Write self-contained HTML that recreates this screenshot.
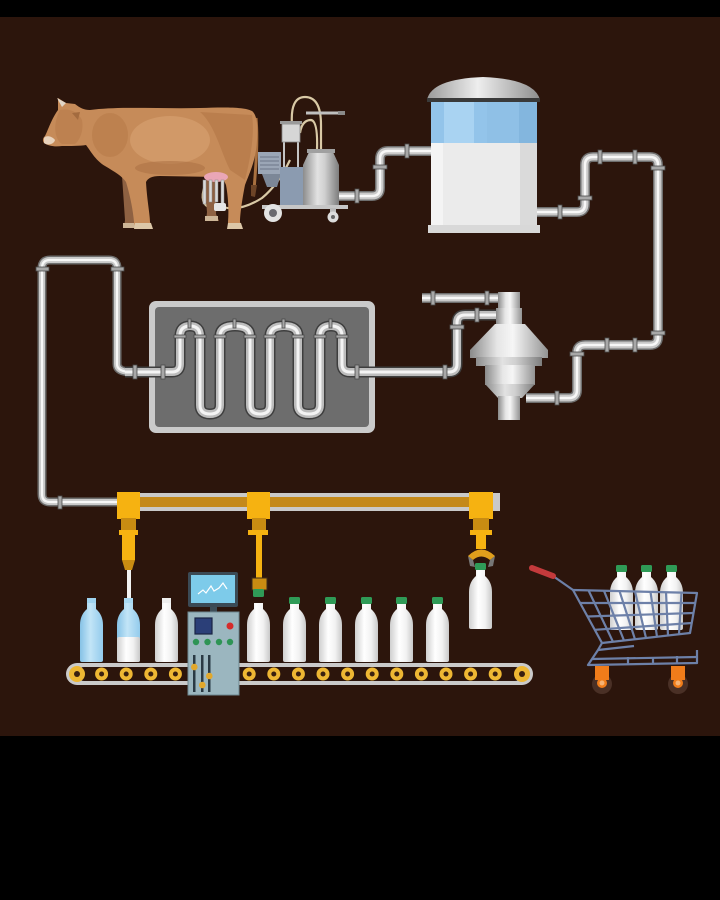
<!DOCTYPE html>
<html><head><meta charset="utf-8"><style>html,body{margin:0;padding:0;background:#000}svg{display:block}</style></head>
<body>
<svg width="720" height="900" viewBox="0 0 720 900" xmlns="http://www.w3.org/2000/svg">
<defs>
<linearGradient id="metal" x1="0" y1="0" x2="1" y2="0">
<stop offset="0" stop-color="#8a8a8a"/><stop offset="0.35" stop-color="#e6e6e6"/><stop offset="0.55" stop-color="#f6f6f6"/><stop offset="1" stop-color="#939393"/></linearGradient>
<linearGradient id="can" x1="0" y1="0" x2="1" y2="0">
<stop offset="0" stop-color="#8c8c8c"/><stop offset="0.4" stop-color="#e2e2e2"/><stop offset="0.6" stop-color="#d0d0d0"/><stop offset="1" stop-color="#7d7d7d"/></linearGradient>
<linearGradient id="bw" x1="0" y1="0" x2="1" y2="0">
<stop offset="0" stop-color="#cfcfcf"/><stop offset="0.4" stop-color="#ffffff"/><stop offset="0.7" stop-color="#f2f2f2"/><stop offset="1" stop-color="#c9c9c9"/></linearGradient>
<linearGradient id="bb" x1="0" y1="0" x2="1" y2="0">
<stop offset="0" stop-color="#86c2e6"/><stop offset="0.45" stop-color="#c2e5f7"/><stop offset="1" stop-color="#93cbec"/></linearGradient>
<linearGradient id="dome" x1="0" y1="0" x2="1" y2="0">
<stop offset="0" stop-color="#9a9a9a"/><stop offset="0.45" stop-color="#eeeeee"/><stop offset="1" stop-color="#8e8e8e"/></linearGradient>
<path id="bottle" d="M7,6 L16,6 L16,12 Q23,18 23,28 L23,63 Q23,65 21,65 L2,65 Q0,65 0,63 L0,28 Q0,18 7,12 Z"/>
<path id="pMilk" d="M336,196 H372 Q380,196 380,188 V159 Q380,151 388,151 H433"/>
<path id="pTank" d="M535,212 H577 Q585,212 585,204 V165 Q585,157 593,157 H650 Q658,157 658,165 V337 Q658,345 650,345 H585 Q577,345 577,353 V390 Q577,398 569,398 H526"/>
<path id="pSepTop" d="M422,298 H500"/>
<path id="pSerp" d="M125,372 H172 Q180,372 180,364 V336 Q180,326 190,326 Q200,326 200,336 V405 Q200,414 210,414 Q220,414 220,405 V336 Q220,326 235,326 Q250,326 250,336 V405 Q250,414 260,414 Q270,414 270,405 V336 Q270,326 284,326 Q298,326 298,336 V405 Q298,414 309,414 Q320,414 320,405 V336 Q320,326 331,326 Q342,326 342,336 V364 Q342,372 350,372 H449 Q457,372 457,364 V323 Q457,315 465,315 H500"/>
<path id="pLoop" d="M132,372 Q117,372 117,364 V268 Q117,260 109,260 H50 Q42,260 42,268 V494 Q42,502 50,502 H120"/>
</defs>

<rect width="720" height="900" fill="#000"/>
<rect x="0" y="17" width="720" height="719" fill="#2c150c"/>

<!-- ===== PIPES ===== -->
<g fill="none" stroke-linecap="butt">
<use href="#pMilk" stroke="#6e6e6e" stroke-width="10"/>
<use href="#pMilk" stroke="#c9c9c9" stroke-width="7"/>
<use href="#pMilk" stroke="#f7f7f7" stroke-width="2.5"/>
<use href="#pTank" stroke="#6e6e6e" stroke-width="10"/>
<use href="#pTank" stroke="#c9c9c9" stroke-width="7"/>
<use href="#pTank" stroke="#f7f7f7" stroke-width="2.5"/>
<use href="#pSepTop" stroke="#6e6e6e" stroke-width="10"/>
<use href="#pSepTop" stroke="#c9c9c9" stroke-width="7"/>
<use href="#pSepTop" stroke="#f7f7f7" stroke-width="2.5"/>
<use href="#pLoop" stroke="#6e6e6e" stroke-width="9"/>
<use href="#pLoop" stroke="#c9c9c9" stroke-width="6"/>
<use href="#pLoop" stroke="#f7f7f7" stroke-width="2.2"/>
</g>

<!-- heat exchanger -->
<rect x="149" y="301" width="226" height="132" rx="7" fill="#cacaca"/>
<rect x="155" y="307" width="214" height="120" rx="4" fill="#6d6d6d"/>
<g fill="none">
<use href="#pSerp" stroke="#3e3e3e" stroke-width="11"/>
<use href="#pSerp" stroke="#bdbdbd" stroke-width="8"/>
<use href="#pSerp" stroke="#f4f4f4" stroke-width="3"/>
</g>

<!-- flanges -->
<g fill="#a8a8a8" stroke="#4a4a4a" stroke-width="0.8">
<rect x="355" y="189" width="4" height="14"/>
<rect x="373" y="165" width="14" height="4"/>
<rect x="405" y="144" width="4" height="14"/>
<rect x="558" y="205" width="4" height="14"/>
<rect x="578" y="196" width="14" height="4"/>
<rect x="598" y="150" width="4" height="14"/>
<rect x="633" y="150" width="4" height="14"/>
<rect x="651" y="166" width="14" height="4"/>
<rect x="651" y="331" width="14" height="4"/>
<rect x="605" y="338" width="4" height="14"/>
<rect x="633" y="338" width="4" height="14"/>
<rect x="570" y="352" width="14" height="4"/>
<rect x="555" y="391" width="4" height="14"/>
<rect x="431" y="291" width="4" height="14"/>
<rect x="485" y="291" width="4" height="14"/>
<rect x="475" y="308" width="4" height="14"/>
<rect x="450" y="325" width="14" height="4"/>
<rect x="443" y="365" width="4" height="14"/>
<rect x="355" y="365" width="4" height="14"/>
<rect x="133" y="365" width="4" height="14"/>
<rect x="161" y="365" width="4" height="14"/>
<rect x="36" y="267" width="13" height="4"/>
<rect x="111" y="267" width="13" height="4"/>
<rect x="58" y="496" width="4" height="13"/>
<rect x="188" y="319" width="3" height="9"/>
<rect x="233" y="319" width="3" height="9"/>
<rect x="282" y="319" width="3" height="9"/>
<rect x="329" y="319" width="3" height="9"/>
<rect x="174" y="335" width="12" height="3"/>
<rect x="194" y="335" width="12" height="3"/>
<rect x="214" y="335" width="12" height="3"/>
<rect x="244" y="335" width="12" height="3"/>
<rect x="264" y="335" width="12" height="3"/>
<rect x="292" y="335" width="12" height="3"/>
<rect x="314" y="335" width="12" height="3"/>
<rect x="336" y="335" width="12" height="3"/>
</g>

<!-- ===== TANK ===== -->
<path d="M427,100 Q431,79 483,77 Q535,79 540,100 Z" fill="url(#dome)"/>
<rect x="427" y="98" width="113" height="4" fill="#3a3a3a"/>
<rect x="431" y="102" width="106" height="41" fill="#93c4ea"/>
<rect x="444" y="102" width="30" height="41" fill="#a9d3f2"/>
<rect x="487" y="102" width="32" height="41" fill="#8fc0e6"/>
<rect x="519" y="102" width="18" height="41" fill="#83b6de"/>
<rect x="431" y="143" width="106" height="83" fill="#ebebeb"/>
<rect x="431" y="143" width="12" height="83" fill="#f4f4f4"/>
<rect x="520" y="143" width="17" height="83" fill="#dadada"/>
<rect x="428" y="225" width="112" height="8" fill="#d8d8d8"/>

<!-- ===== SEPARATOR ===== -->
<rect x="498" y="292" width="22" height="16" fill="url(#metal)"/>
<rect x="496" y="308" width="26" height="16" fill="url(#metal)"/>
<path d="M495,324 L525,324 L548,350 L548,358 L470,358 L470,350 Z" fill="url(#metal)"/>
<rect x="476" y="357" width="66" height="9" fill="url(#can)"/>
<rect x="485" y="365" width="50" height="20" fill="url(#metal)"/>
<path d="M485,384 L535,384 L522,398 L498,398 Z" fill="url(#can)"/>
<rect x="498" y="396" width="22" height="24" fill="url(#metal)"/>

<!-- ===== MILKING MACHINE ===== -->
<g fill="none" stroke="#d9c9a6" stroke-width="2.2">
<path d="M292,125 Q290,97 305,97 Q321,97 321,125 L321,152"/>
<path d="M300,133 Q302,120 311,120 Q318,121 317,150"/>
<path d="M223,207 Q240,212 262,198 Q278,185 290,160"/>
<path d="M205,185 Q198,205 212,208 L226,207"/>
</g>
<path d="M306,113 H343" stroke="#bfbfbf" stroke-width="3"/>
<rect x="338" y="111" width="7" height="4" fill="#8a8a8a"/>
<rect x="258" y="152" width="23" height="22" fill="#9ba6b6"/>
<g stroke="#6d7788" stroke-width="1"><path d="M260,157 H279 M260,161 H279 M260,165 H279 M260,169 H279"/></g>
<path d="M262,174 L281,174 L277,187 L267,187 Z" fill="#7c8797"/>
<rect x="283" y="140" width="2" height="28" fill="#c4c4c4"/>
<rect x="297" y="140" width="2" height="28" fill="#c4c4c4"/>
<rect x="280" y="167" width="23" height="40" fill="#8b9bb0"/>
<rect x="282" y="124" width="18" height="18" fill="#d6d6d6" stroke="#888" stroke-width="0.8"/>
<rect x="280" y="121" width="22" height="3" fill="#9a9a9a"/>
<path d="M309,152 L333,152 L339,165 L339,207 L303,207 L303,165 Z" fill="url(#can)"/>
<rect x="307" y="149" width="28" height="4" fill="#a0a0a0"/>
<rect x="262" y="205" width="86" height="4" fill="#c6c6c6"/>
<circle cx="273" cy="213" r="9" fill="#e3e3e3"/>
<circle cx="273" cy="213" r="4" fill="#6a6a70"/>
<rect x="330" y="208" width="6" height="6" fill="#bbb"/>
<circle cx="333" cy="217" r="5.5" fill="#dcdcdc"/>
<circle cx="333" cy="217" r="2" fill="#666"/>

<!-- ===== COW ===== -->
<g>
<!-- far legs -->
<path d="M122,176 L134,176 L135,222 L137,228 L124,228 L125,220 Z" fill="#8e6142"/>
<path d="M204,180 L217,180 L216,214 L219,221 L206,221 L207,212 Z" fill="#8e6142"/>
<rect x="123" y="223" width="13" height="5" fill="#cdb597"/>
<rect x="205" y="216" width="13" height="5" fill="#cdb597"/>
<!-- tail -->
<path d="M256,118 C258,140 256,165 254,190" fill="none" stroke="#a9703f" stroke-width="3"/>
<path d="M251,185 L257,185 L255,197 L251,196 Z" fill="#6d4427"/>
<!-- body -->
<path d="M58,98 L66,103 L75,104 C80,108 84,110 90,110 C120,106 160,109 200,108 C225,107 245,107 252,111 C257,115 258,125 257,140 C256,160 250,172 245,185 C242,200 240,215 240,222 L242,228 L228,229 L228,222 C229,210 228,195 226,185 C224,180 222,178 218,177 L160,176 C152,176 148,178 146,182 C147,200 150,215 150,222 L152,228 L135,229 L134,222 C133,210 130,195 126,182 C122,176 115,172 105,166 C95,160 90,150 86,145 C80,146 70,146 62,146 C55,147 48,146 44,143 C42,140 43,138 45,136 C48,130 52,118 58,110 Z" fill="#c68b59"/>
<!-- shading -->
<ellipse cx="170" cy="140" rx="40" ry="24" fill="#d39c6b" opacity="0.8"/>
<ellipse cx="110" cy="135" rx="18" ry="22" fill="#b97d4c" opacity="0.7"/>
<path d="M200,112 C215,125 220,150 230,170 L245,180 C250,160 255,135 252,115 Z" fill="#b57949" opacity="0.7"/>
<ellipse cx="170" cy="168" rx="35" ry="7" fill="#ad7346" opacity="0.6"/>
<path d="M60,110 C70,108 78,112 82,120 C84,130 80,140 75,144 L62,144 C55,140 52,125 60,110 Z" fill="#b87b4b" opacity="0.6"/>
<path d="M44,138 C46,135 52,136 55,140 C54,144 48,146 44,143 Z" fill="#e8d2bc"/>
<path d="M57,98 L66,103 L62,107 Z" fill="#e1d6c8"/>
<path d="M72,113 L80,112 L78,120 Z" fill="#a36b3f"/>
<!-- hooves -->
<path d="M135,223 L151,223 L153,229 L134,229 Z" fill="#dcc7a8"/>
<path d="M228,223 L241,223 L243,229 L227,229 Z" fill="#dcc7a8"/>
<!-- udder & cups -->
<ellipse cx="216" cy="177" rx="12" ry="5" fill="#eaa6b6"/>
<g fill="#d9d9d9" stroke="#888" stroke-width="0.5">
<rect x="203" y="180" width="3" height="24"/>
<rect x="209" y="180" width="3" height="22"/>
<rect x="215" y="180" width="3" height="22"/>
<rect x="221" y="180" width="3" height="24"/>
</g>
<rect x="214" y="203" width="12" height="8" rx="2" fill="#e5e5e5"/>
</g>

<!-- ===== OVERHEAD RAIL ===== -->
<rect x="118" y="493" width="382" height="18" fill="#c9c9c9"/>
<rect x="118" y="497" width="360" height="10" fill="#c4891a"/>

<!-- head 1 -->
<rect x="117" y="492" width="23" height="27" fill="#f6b211"/>
<rect x="121" y="518" width="15" height="12" fill="#c98c12"/>
<rect x="119" y="530" width="19" height="5" fill="#f6b211"/>
<rect x="122" y="535" width="13" height="25" fill="#f6b211"/>
<path d="M122,560 L135,560 L132,570 L125,570 Z" fill="#c98c12"/>
<!-- head 2 -->
<rect x="247" y="492" width="23" height="27" fill="#f6b211"/>
<rect x="252" y="518" width="14" height="12" fill="#c98c12"/>
<rect x="248" y="530" width="20" height="5" fill="#f6b211"/>
<rect x="256" y="535" width="6" height="45" fill="#f6b211"/>
<rect x="252" y="578" width="15" height="12" fill="#c98c12" stroke="#3b2b1b" stroke-width="1"/>
<!-- head 3 -->
<rect x="469" y="492" width="24" height="27" fill="#f6b211"/>
<rect x="473" y="518" width="16" height="12" fill="#c98c12"/>
<rect x="470" y="530" width="22" height="5" fill="#f6b211"/>
<rect x="476" y="535" width="10" height="14" fill="#f6b211"/>
<path d="M468,556 Q481,543 495,556 L490,560 Q481,553 473,560 Z" fill="#e09f1c"/>
<path d="M468,556 L473,560 L475,567 L470,566 Z M495,556 L490,560 L488,567 L493,566 Z" fill="#777"/>

<!-- ===== BELT ===== -->
<rect x="66" y="663" width="467" height="22" rx="11" fill="#cacaca"/>
<rect x="77" y="667" width="445" height="14" rx="7" fill="#2c150c"/>
<g fill="#eeb733">
<circle cx="77" cy="674" r="8"/><circle cx="522" cy="674" r="8"/>
<circle cx="101.6" cy="674" r="6.5"/><circle cx="126.2" cy="674" r="6.5"/><circle cx="150.8" cy="674" r="6.5"/><circle cx="175.4" cy="674" r="6.5"/>
<circle cx="249.2" cy="674" r="6.5"/><circle cx="273.8" cy="674" r="6.5"/><circle cx="298.4" cy="674" r="6.5"/><circle cx="323" cy="674" r="6.5"/>
<circle cx="347.6" cy="674" r="6.5"/><circle cx="372.2" cy="674" r="6.5"/><circle cx="396.8" cy="674" r="6.5"/><circle cx="421.4" cy="674" r="6.5"/>
<circle cx="446" cy="674" r="6.5"/><circle cx="470.6" cy="674" r="6.5"/><circle cx="495.2" cy="674" r="6.5"/>
</g>
<g fill="#3a2010">
<circle cx="77" cy="674" r="3"/><circle cx="522" cy="674" r="3"/>
<circle cx="101.6" cy="674" r="2.5"/><circle cx="126.2" cy="674" r="2.5"/><circle cx="150.8" cy="674" r="2.5"/><circle cx="175.4" cy="674" r="2.5"/>
<circle cx="249.2" cy="674" r="2.5"/><circle cx="273.8" cy="674" r="2.5"/><circle cx="298.4" cy="674" r="2.5"/><circle cx="323" cy="674" r="2.5"/>
<circle cx="347.6" cy="674" r="2.5"/><circle cx="372.2" cy="674" r="2.5"/><circle cx="396.8" cy="674" r="2.5"/><circle cx="421.4" cy="674" r="2.5"/>
<circle cx="446" cy="674" r="2.5"/><circle cx="470.6" cy="674" r="2.5"/><circle cx="495.2" cy="674" r="2.5"/>
</g>

<!-- ===== BOTTLES on belt ===== -->
<rect x="127" y="570" width="4" height="40" fill="#f2f2f2"/>
<rect x="87" y="598" width="9" height="8" fill="#9fd3ef"/>
<use href="#bottle" x="80" y="597" fill="url(#bb)"/>
<rect x="124" y="598" width="9" height="8" fill="#a8d8f1"/>
<use href="#bottle" x="117" y="597" fill="url(#bb)"/>
<rect x="117" y="637" width="23" height="25" rx="2" fill="url(#bw)"/>
<rect x="162" y="598" width="9" height="8" fill="#eeeeee"/>
<use href="#bottle" x="155" y="597" fill="url(#bw)"/>
<g>
<use href="#bottle" x="247" y="597" fill="url(#bw)"/>
<use href="#bottle" x="283" y="597" fill="url(#bw)"/>
<use href="#bottle" x="319" y="597" fill="url(#bw)"/>
<use href="#bottle" x="355" y="597" fill="url(#bw)"/>
<use href="#bottle" x="390" y="597" fill="url(#bw)"/>
<use href="#bottle" x="426" y="597" fill="url(#bw)"/>
<use href="#bottle" x="469" y="564" fill="url(#bw)"/>
</g>
<g fill="#2f9b57">
<rect x="253" y="589" width="11" height="8" rx="1.5"/>
<rect x="289" y="597" width="11" height="7" rx="1.5"/>
<rect x="325" y="597" width="11" height="7" rx="1.5"/>
<rect x="361" y="597" width="11" height="7" rx="1.5"/>
<rect x="396" y="597" width="11" height="7" rx="1.5"/>
<rect x="432" y="597" width="11" height="7" rx="1.5"/>
<rect x="475" y="563" width="11" height="7" rx="1.5"/>
</g>

<!-- ===== CONTROL PANEL ===== -->
<rect x="210" y="605" width="7" height="8" fill="#3d4d57"/>
<rect x="188" y="572" width="50" height="35" rx="2" fill="#3b4a55"/>
<rect x="191" y="575" width="44" height="28" fill="#7dcbea"/>
<path d="M198,594 L203,590 L206,593 L211,586 L214,591 L219,588 L223,583 L227,589" fill="none" stroke="#fff" stroke-width="1.2"/>
<rect x="188" y="612" width="51" height="83" fill="#9bb6bf" stroke="#6e8890" stroke-width="1"/>
<rect x="195" y="618" width="17" height="16" fill="#2b3f78" stroke="#1a2444" stroke-width="1.2"/>
<circle cx="230" cy="626" r="3.5" fill="#d52b2b"/>
<g fill="#2e9455"><circle cx="196" cy="642" r="3.2"/><circle cx="207.5" cy="642" r="3.2"/><circle cx="219" cy="642" r="3.2"/><circle cx="230" cy="642" r="3.2"/></g>
<g fill="#2a3a44"><rect x="193" y="655" width="2.5" height="37"/><rect x="201" y="655" width="2.5" height="37"/><rect x="208" y="655" width="2.5" height="37"/></g>
<g fill="#e2a82b"><circle cx="194.3" cy="667" r="3.3"/><circle cx="202.3" cy="685" r="3.3"/><circle cx="209.3" cy="676" r="3.3"/></g>

<!-- ===== CART ===== -->
<use href="#bottle" x="610" y="565" fill="url(#bw)"/>
<use href="#bottle" x="635" y="565" fill="url(#bw)"/>
<use href="#bottle" x="660" y="565" fill="url(#bw)"/>
<g fill="#2f9b57"><rect x="616" y="565" width="11" height="7" rx="1.5"/><rect x="641" y="565" width="11" height="7" rx="1.5"/><rect x="666" y="565" width="11" height="7" rx="1.5"/></g>
<circle cx="602" cy="684" r="10" fill="#4a3026"/>
<circle cx="678" cy="684" r="10" fill="#4a3026"/>
<g fill="none" stroke="#6d80a8" stroke-width="2.2" stroke-linejoin="round">
<path d="M553,576 L573,590"/>
<path d="M573,590 L697,593 L690,633 L602,643 Z"/>
<path d="M580,603 L695,603 M587.5,616.5 L693.5,613 M594.8,629.8 L691.8,623"/>
<path d="M588.5,590.4 L613,641.8 M604,590.8 L624,640.5 M619.5,591.1 L635,639.3 M635,591.5 L646,638 M650.5,591.9 L657,636.8 M666,592.3 L668,635.5 M681.5,592.6 L679,634.3"/>
<path d="M602,643 L598,650 L634,646"/>
<path d="M598,650 L588,665 L697,663 L697,650"/>
<path d="M592,659 L697,657"/>
<path d="M628,657 L628,665 M653,657 L653,664 M677,656 L677,664"/>
</g>
<path d="M532,568 L553,576" stroke="#c33a3c" stroke-width="6" stroke-linecap="round"/>
<rect x="595" y="666" width="14" height="14" fill="#f07c1a"/>
<rect x="671" y="666" width="14" height="14" fill="#f07c1a"/>
<circle cx="602" cy="683" r="5" fill="#f07c1a"/><circle cx="678" cy="683" r="5" fill="#f07c1a"/>
<circle cx="602" cy="683" r="2.5" fill="#f6b274"/><circle cx="678" cy="683" r="2.5" fill="#f6b274"/>
</svg>
</body></html>
